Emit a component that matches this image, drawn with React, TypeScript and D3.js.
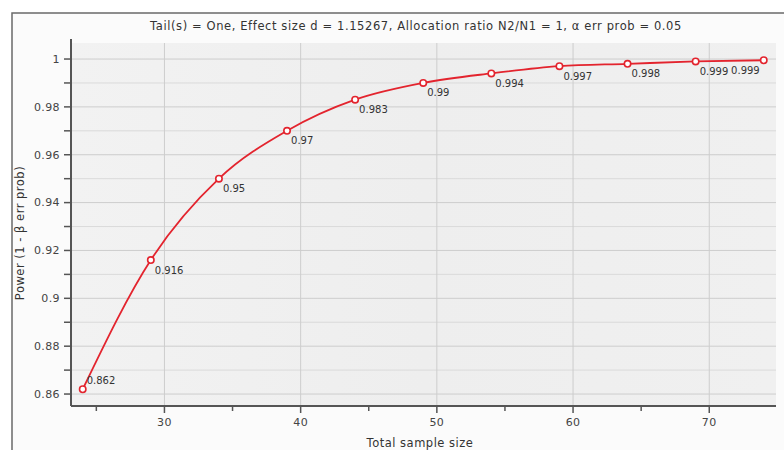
import React from "react";
import * as d3 from "d3";

// Power analysis curve: total sample size vs. power (1 - β err prob)
const sampleSizes = [24, 29, 34, 39, 44, 49, 54, 59, 64, 69, 74];
const powerValues = [0.862, 0.916, 0.95, 0.97, 0.983, 0.99, 0.994, 0.997, 0.998, 0.999, 0.9995];
const powerLabels = ["0.862", "0.916", "0.95", "0.97", "0.983", "0.99", "0.994", "0.997", "0.998", "0.999", "0.999"];
const xTicks = [30, 40, 50, 60, 70];
const xMinorTicks = [25, 35, 45, 55, 65];
const yTicks = [0.86, 0.88, 0.9, 0.92, 0.94, 0.96, 0.98, 1];
const yMinorTicks = [0.87, 0.89, 0.91, 0.93, 0.95, 0.97, 0.99];
const yTickLabels = ["0.86", "0.88", "0.9", "0.92", "0.94", "0.96", "0.98", "1"];

const titleText =
  "Tail(s) = One, Effect size d = 1.15267, Allocation ratio N2/N1 = 1, α err prob = 0.05";

const W = 784;
const H = 450;
const plot = { left: 71, right: 776, top: 43, bottom: 406 };
const FONT = "'DejaVu Sans', 'Open Sans', sans-serif";
const RED = "#e3242e";

export default function App() {
  const x = d3.scaleLinear().domain([23.14, 74.9]).range([plot.left, plot.right]);
  const y = d3.scaleLinear().domain([0.855, 1.0067]).range([plot.bottom, plot.top]);

  const pts: [number, number][] = sampleSizes.map((s, i) => [x(s), y(powerValues[i])]);
  const line = d3.line().curve(d3.curveMonotoneX)(pts) || "";
  const last = pts.length - 1;

  return (
    <svg
      width={W}
      height={H}
      style={{ position: "absolute", left: 0, top: 0, background: "#ffffff" }}
    >
      <defs>
        <linearGradient id="plotBg" x1="0" y1="0" x2="1" y2="0">
          <stop offset="0" stopColor="#f2f2f2" />
          <stop offset="0.5" stopColor="#eeeeee" />
          <stop offset="1" stopColor="#f0f0f0" />
        </linearGradient>
      </defs>
      {/* outer frame */}
      <rect x={12} y={13} width={W} height={H} fill="#fbfbfb" stroke="#6a6a6a" strokeWidth={1.5} />

      {/* plot area */}
      <rect
        x={plot.left}
        y={plot.top}
        width={plot.right - plot.left}
        height={plot.bottom - plot.top}
        fill="url(#plotBg)"
      />

      {/* grid */}
      {yMinorTicks.map((t) => (
        <line key={"ym" + t} x1={plot.left} x2={plot.right} y1={y(t)} y2={y(t)} stroke="#dadada" strokeWidth={1} />
      ))}
      {yTicks.map((t) => (
        <line key={"yg" + t} x1={plot.left} x2={plot.right} y1={y(t)} y2={y(t)} stroke="#cdcdcd" strokeWidth={1} />
      ))}
      {xTicks.map((t) => (
        <line key={"xg" + t} x1={x(t)} x2={x(t)} y1={plot.top} y2={plot.bottom} stroke="#cdcdcd" strokeWidth={1} />
      ))}

      {/* axes */}
      <line x1={plot.left} x2={plot.left} y1={plot.top - 4} y2={plot.bottom} stroke="#555" strokeWidth={2} />
      <line x1={plot.left} x2={plot.right} y1={plot.bottom} y2={plot.bottom} stroke="#555" strokeWidth={2} />

      {yTicks.map((t, i) => (
        <g key={"yt" + t}>
          <line x1={plot.left - 7} x2={plot.left} y1={y(t)} y2={y(t)} stroke="#555" strokeWidth={1.5} />
          <text
            x={plot.left - 11}
            y={y(t)}
            dy="0.35em"
            textAnchor="end"
            fontFamily={FONT}
            fontSize={11}
            letterSpacing={0.4}
            fill="#444"
          >
            {yTickLabels[i]}
          </text>
        </g>
      ))}
      {yMinorTicks.map((t) => (
        <line key={"ymt" + t} x1={plot.left - 7} x2={plot.left} y1={y(t)} y2={y(t)} stroke="#555" strokeWidth={1.5} />
      ))}
      {xTicks.map((t) => (
        <g key={"xt" + t}>
          <line x1={x(t)} x2={x(t)} y1={plot.bottom} y2={plot.bottom + 7} stroke="#555" strokeWidth={1.5} />
          <text
            x={x(t)}
            y={plot.bottom + 20}
            textAnchor="middle"
            fontFamily={FONT}
            fontSize={11}
            letterSpacing={0.4}
            fill="#444"
          >
            {t}
          </text>
        </g>
      ))}
      {xMinorTicks.map((t) => (
        <line key={"xmt" + t} x1={x(t)} x2={x(t)} y1={plot.bottom} y2={plot.bottom + 5} stroke="#555" strokeWidth={1.5} />
      ))}

      {/* title and axis labels */}
      <text x={416} y={30} textAnchor="middle" fontFamily={FONT} fontSize={11.5} letterSpacing={0.6} fill="#333">
        {titleText}
      </text>
      <text x={420} y={447} textAnchor="middle" fontFamily={FONT} fontSize={11.5} letterSpacing={0.5} fill="#333">
        Total sample size
      </text>
      <text
        transform={`translate(24, 233) rotate(-90)`}
        textAnchor="middle"
        fontFamily={FONT}
        fontSize={11.5}
        letterSpacing={0.5}
        fill="#333"
      >
        Power (1 - β err prob)
      </text>

      {/* power curve */}
      <path d={line} fill="none" stroke={RED} strokeWidth={1.8} />
      {pts.map(([px, py], i) => (
        <g key={"p" + i}>
          <circle cx={px} cy={py} r={3.2} fill="#fff" stroke={RED} strokeWidth={1.6} />
          <text
            x={i === last ? px - 4 : px + 4}
            y={i === 0 ? py - 9 : py + 10}
            dy="0.35em"
            textAnchor={i === last ? "end" : "start"}
            fontFamily={FONT}
            fontSize={10}
            fill="#333"
          >
            {powerLabels[i]}
          </text>
        </g>
      ))}
    </svg>
  );
}
